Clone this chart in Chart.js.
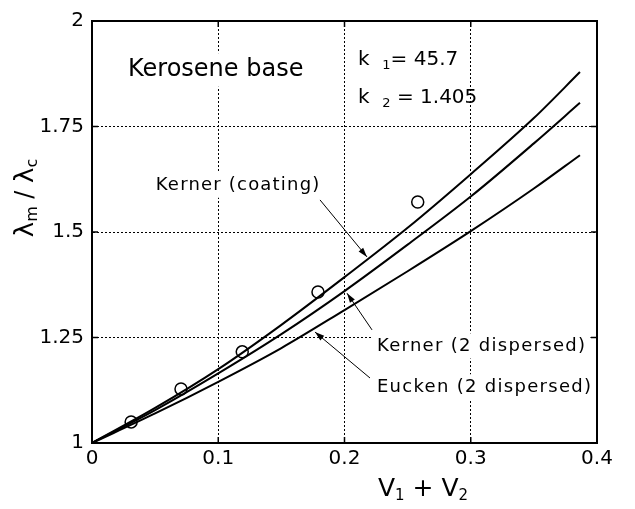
<!DOCTYPE html>
<html>
<head>
<meta charset="utf-8">
<script src="https://cdn.jsdelivr.net/npm/chart.js@4"></script>
<style>
  html, body { margin: 0; padding: 0; background: #fff; }
  #wrap { width: 635px; height: 509px; }
</style>
</head>
<body>
<div id="wrap"><canvas id="chart"></canvas></div>
<script>
// 곡선 데이터
const xs = [0, 0.05, 0.1, 0.15, 0.2, 0.25, 0.3, 0.35, 0.3865];
const kernerCoating = [1.0, 1.083, 1.175, 1.280, 1.393, 1.510, 1.637, 1.770, 1.879];
const kernerDispersed = [1.0, 1.078, 1.165, 1.258, 1.360, 1.470, 1.584, 1.710, 1.806];
const euckenDispersed = [1.0, 1.070, 1.145, 1.225, 1.315, 1.407, 1.502, 1.603, 1.682];

// 측정값
const measuredX = [0.031, 0.0705, 0.119, 0.179, 0.258];
const measuredY = [1.05, 1.128, 1.216, 1.358, 1.571];

const xTicks = ['0', '0.1', '0.2', '0.3', '0.4'];
const yTicks = ['1', '1.25', '1.5', '1.75', '2'];

const FONT = '"DejaVu Sans", sans-serif';

const toPoints = (ys) => xs.map((x, i) => ({ x, y: ys[i] }));

const curve = (label, ys) => ({
  label,
  data: toPoints(ys),
  showLine: true,
  borderColor: '#000',
  borderWidth: 2,
  cubicInterpolationMode: 'monotone',
  pointRadius: 0,
  fill: false,
});

// 주석 (데이터 좌표)
const notes = [
  { text: 'Kerner (coating)', x: 0.0505, y: 1.611, size: 18, spacing: 1.2 },
  { text: 'Kerner (2 dispersed)', x: 0.2257, y: 1.230, size: 18, spacing: 1.3 },
  { text: 'Eucken (2 dispersed)', x: 0.2257, y: 1.133, size: 18, spacing: 1.3 },
  { text: 'Kerosene base', x: 0.0285, y: 1.884, size: 24, spacing: 0 },
];
const arrows = [
  { from: [0.1806, 1.576], to: [0.2178, 1.441] },
  { from: [0.2218, 1.268], to: [0.2020, 1.355] },
  { from: [0.2202, 1.154], to: [0.1766, 1.263] },
];

const extras = {
  id: 'extras',
  beforeDatasetsDraw(chart) {
    // 글자 뒤 흰 바탕 (격자선 가림)
    const { ctx, scales: { x, y } } = chart;
    ctx.save();
    ctx.fillStyle = '#fff';
    notes.forEach((n) => {
      ctx.font = n.size + 'px ' + FONT;
      ctx.letterSpacing = n.spacing + 'px';
      const w = ctx.measureText(n.text).width;
      ctx.fillRect(x.getPixelForValue(n.x) - 4, y.getPixelForValue(n.y) - n.size * 0.7, w + 8, n.size * 1.4);
    });
    ctx.fillRect(x.getPixelForValue(0.2107) - 4, y.getPixelForValue(1.908) - 14, 110, 28);
    ctx.restore();
  },
  afterDraw(chart) {
    const { ctx, chartArea: a, scales: { x, y } } = chart;
    ctx.save();
    // 외곽 테두리
    ctx.strokeStyle = '#000';
    ctx.lineWidth = 2;
    ctx.strokeRect(a.left, a.top, a.right - a.left, a.bottom - a.top);

    // 안쪽 눈금
    ctx.lineWidth = 1.5;
    ctx.beginPath();
    [1.25, 1.5, 1.75].forEach((v) => {
      const py = y.getPixelForValue(v);
      ctx.moveTo(a.left, py); ctx.lineTo(a.left + 6, py);
      ctx.moveTo(a.right, py); ctx.lineTo(a.right - 6, py);
    });
    [0.1, 0.2, 0.3].forEach((v) => {
      const px = x.getPixelForValue(v);
      ctx.moveTo(px, a.bottom); ctx.lineTo(px, a.bottom - 6);
      ctx.moveTo(px, a.top); ctx.lineTo(px, a.top + 6);
    });
    ctx.stroke();

    ctx.fillStyle = '#000';
    ctx.textBaseline = 'middle';
    ctx.textAlign = 'left';
    notes.forEach((n) => {
      ctx.font = n.size + 'px ' + FONT;
      ctx.letterSpacing = n.spacing + 'px';
      ctx.fillText(n.text, x.getPixelForValue(n.x), y.getPixelForValue(n.y));
    });
    ctx.letterSpacing = '0px';

    // k1, k2
    const kx = x.getPixelForValue(0.2107);
    const sub = (main, s, rest, py) => {
      ctx.font = '20px ' + FONT;
      ctx.fillText(main, kx, py);
      let w = ctx.measureText(main).width;
      ctx.font = '13px ' + FONT;
      ctx.fillText(s, kx + w, py + 6);
      w += ctx.measureText(s).width;
      ctx.font = '20px ' + FONT;
      ctx.fillText(rest, kx + w, py);
    };
    sub('k  ', '1', '= 45.7', y.getPixelForValue(1.908));
    sub('k  ', '2', ' = 1.405', y.getPixelForValue(1.818));

    // 화살표
    ctx.lineWidth = 1;
    arrows.forEach((ar) => {
      const x1 = x.getPixelForValue(ar.from[0]), y1 = y.getPixelForValue(ar.from[1]);
      const x2 = x.getPixelForValue(ar.to[0]), y2 = y.getPixelForValue(ar.to[1]);
      ctx.beginPath();
      ctx.moveTo(x1, y1); ctx.lineTo(x2, y2); ctx.stroke();
      const ang = Math.atan2(y2 - y1, x2 - x1);
      ctx.beginPath();
      ctx.moveTo(x2, y2);
      ctx.lineTo(x2 - 10 * Math.cos(ang - 0.3), y2 - 10 * Math.sin(ang - 0.3));
      ctx.lineTo(x2 - 10 * Math.cos(ang + 0.3), y2 - 10 * Math.sin(ang + 0.3));
      ctx.closePath();
      ctx.fill();
    });

    // 축 제목
    const drawParts = (parts, cx0, cy) => {
      let total = 0;
      parts.forEach((p) => { ctx.font = p[1] + 'px ' + FONT; total += ctx.measureText(p[0]).width; });
      let cx = cx0 - total / 2;
      parts.forEach((p) => {
        ctx.font = p[1] + 'px ' + FONT;
        ctx.fillText(p[0], cx, cy + p[2]);
        cx += ctx.measureText(p[0]).width;
      });
    };
    drawParts([['V', 25, 0], ['1', 15, 7], [' + ', 25, 0], ['V', 25, 0], ['2', 15, 7]], 423, 489);

    ctx.translate(26, 198);
    ctx.rotate(-Math.PI / 2);
    drawParts([['λ', 26, 0], ['m', 16, 7], [' / ', 24, 0], ['λ', 26, 0], ['c', 16, 7]], 0, 0);
    ctx.restore();
  },
};

new Chart(document.getElementById('chart'), {
  type: 'scatter',
  data: {
    datasets: [
      curve('Kerner (coating)', kernerCoating),
      curve('Kerner (2 dispersed)', kernerDispersed),
      curve('Eucken (2 dispersed)', euckenDispersed),
      {
        label: 'measured',
        data: measuredX.map((x, i) => ({ x, y: measuredY[i] })),
        showLine: false,
        pointRadius: 6,
        pointBorderWidth: 1.5,
        pointBorderColor: '#000',
        pointBackgroundColor: 'rgba(255,255,255,0)',
      },
    ],
  },
  options: {
    responsive: true,
    maintainAspectRatio: false,
    animation: false,
    layout: { padding: { left: 0, right: 38, top: 21, bottom: 0 } },
    plugins: {
      legend: { display: false },
      tooltip: { enabled: false },
    },
    scales: {
      x: {
        type: 'linear',
        min: 0,
        max: 0.4,
        ticks: {
          stepSize: 0.1,
          color: '#000',
          font: { size: 20, family: FONT },
          padding: 4,
          callback: (v, i) => xTicks[i],
        },
        grid: { color: '#000', lineWidth: 1, drawTicks: false },
        border: { display: true, color: '#000', width: 2, dash: [2, 2] },
        afterFit: (s) => { s.height = 66; },
      },
      y: {
        type: 'linear',
        min: 1,
        max: 2,
        ticks: {
          stepSize: 0.25,
          color: '#000',
          font: { size: 20, family: FONT },
          padding: 8,
          callback: (v, i) => yTicks[i],
        },
        grid: { color: '#000', lineWidth: 1, drawTicks: false },
        border: { display: true, color: '#000', width: 2, dash: [2, 2] },
        afterFit: (s) => { s.width = 92; },
      },
    },
  },
  plugins: [extras],
});
</script>
</body>
</html>
